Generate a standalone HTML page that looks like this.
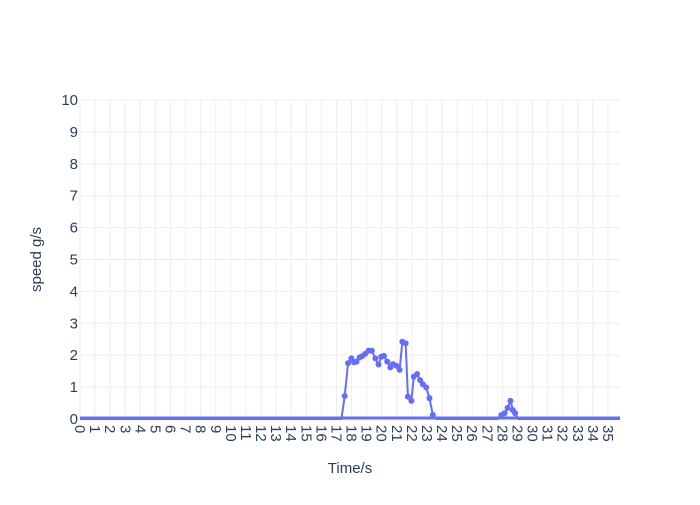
<!DOCTYPE html>
<html><head><meta charset="utf-8"><style>
body{margin:0;background:#fff;font-family:"Liberation Sans",sans-serif}
svg text{fill:#2a3f5f;font-family:"Liberation Sans",sans-serif}
</style></head><body>
<svg width="700" height="500" id="c"></svg>
<script>
const times=[0,17.33,17.55,17.77,17.99,18.17,18.33,18.54,18.71,18.91,19.13,19.35,19.58,19.79,19.97,20.15,20.37,20.57,20.75,20.97,21.19,21.37,21.59,21.74,21.97,22.13,22.35,22.55,22.73,22.95,23.17,23.39,23.63,27.7,27.93,28.15,28.35,28.54,28.7,28.85,29.05,35.8];
const values=[0,0,0.72,1.75,1.9,1.78,1.8,1.93,1.97,2.04,2.14,2.14,1.9,1.71,1.95,1.98,1.8,1.62,1.72,1.67,1.54,2.42,2.37,0.7,0.57,1.33,1.41,1.22,1.09,0.99,0.65,0.13,0,0,0.12,0.18,0.35,0.57,0.28,0.18,0,0];
const yTicks=[0,1,2,3,4,5,6,7,8,9,10];
const xTicks=[];for(let i=0;i<=35;i++)xTicks.push(i);
const L=80,R=620,T=100,B=419,xMax=35.8,yMax=10;
const X=v=>L+v/xMax*(R-L), Y=v=>B-v/yMax*(B-T);
const s=document.getElementById('c'),NS='http://www.w3.org/2000/svg';
function mk(t,a,p){const e=document.createElementNS(NS,t);for(const k in a)e.setAttribute(k,a[k]);(p||s).appendChild(e);return e;}
const defs=mk('defs',{});const cp=mk('clipPath',{id:'cp'},defs);mk('rect',{x:L,y:T,width:R-L,height:B-T+3},cp);
xTicks.forEach(t=>{const g=mk('line',{x1:X(t),x2:X(t),y1:T,y2:B,stroke:'#eeeeee','stroke-width':1});

const tx=mk('text',{x:0,y:0,'font-size':15,transform:`translate(${X(t)-5},${B+6}) rotate(90)`});tx.textContent=t;
});
yTicks.forEach(t=>{const g=mk('line',{x1:L,x2:R,y1:Y(t),y2:Y(t),stroke:t===0?'#fff':'#eeeeee','stroke-width':1});

const tx=mk('text',{x:L-2,y:Y(t)+5,'font-size':15,'text-anchor':'end'});tx.textContent=t;
});
const g=mk('g',{'clip-path':'url(#cp)'});
const pl=mk('polyline',{points:times.map((t,i)=>X(t)+','+Y(values[i])).join(' '),fill:'none',stroke:'#636efa','stroke-width':2},g);

const base=mk('line',{x1:L,x2:R,y1:B-1,y2:B-1,stroke:'#636efa','stroke-width':3},g);

times.forEach((t,i)=>{if(values[i]>0){const c=mk('circle',{cx:X(t),cy:Y(values[i]),r:3,fill:'#636efa'},g);
}});
const xt=mk('text',{x:(L+R)/2,y:473,'font-size':15,'text-anchor':'middle'});xt.textContent='Time/s';

const yt=mk('text',{x:0,y:0,'font-size':15,'text-anchor':'middle',transform:`translate(41,${(T+B)/2}) rotate(-90)`});yt.textContent='speed g/s';

</script>
</body></html>
